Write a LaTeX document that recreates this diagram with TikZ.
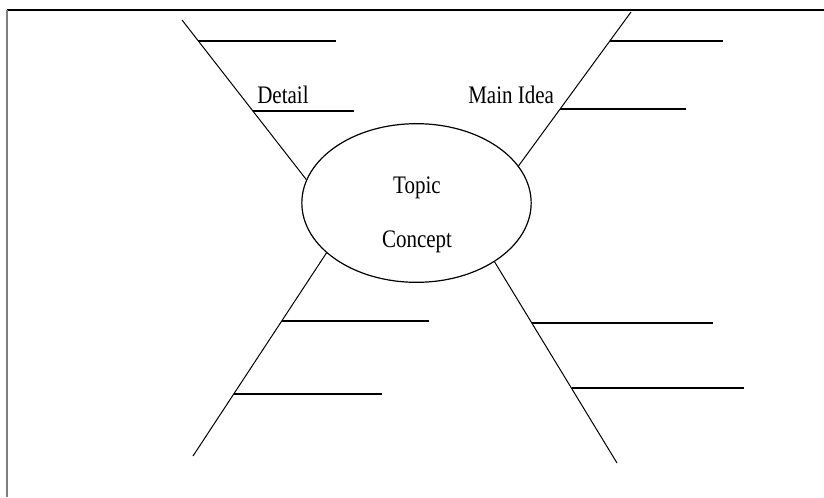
\documentclass[tikz,border=0pt]{standalone}
\usepackage{fontspec}
\setmainfont{Liberation Serif}
\usetikzlibrary{calc, shapes.geometric}

\newcommand{\tallword}[1]{\scalebox{1}[1.2]{#1}}

\begin{document}
\begin{tikzpicture}[x=0.75pt, y=-0.75pt,
		topic/.style = {draw, ellipse, line width=0.9pt, minimum width=172pt, minimum height=119pt, inner sep=0pt},
		spoke/.style = {line width=0.75pt},
		blank/.style = {line width=1.6pt},
		word/.style = {anchor=base, inner sep=0pt, font=\fontsize{15.75}{18}\selectfont}]
		\useasboundingbox (0,0) rectangle (824,497);
		
		% frame
		\draw[line width=0.8pt] (7,10) -- (824,10);
		\draw[gray, line width=1.5pt] (7,10) -- (7,497);
		
		\node[topic] (topic) at (416.5,203) {};
		\node[word] (topicword) at (417,193) {\tallword{Topic}};
		\node[word] (conceptword) at (417,247) {\tallword{Concept}};
		
		\coordinate (ulend) at (182,20);
		\coordinate (urend) at (631,12);
		\coordinate (llend) at (193,456);
		\coordinate (lrend) at (617,463);
		
		\begin{scope}[spoke]
			\draw (topic.168.4) -- (ulend);
			\draw (topic.20.5) -- (urend);
			\draw (topic.209.2) -- (llend);
			\draw (topic.323.9) -- (lrend);
		\end{scope}
		
		% where the blanks leave the spokes
		\coordinate (ulA) at ($(topic.168.4)!0.869!(ulend)$);
		\coordinate (ulB) at ($(topic.168.4)!0.431!(ulend)$);
		\coordinate (urA) at ($(topic.20.5)!0.810!(urend)$);
		\coordinate (urB) at ($(topic.20.5)!0.372!(urend)$);
		\coordinate (llA) at ($(topic.209.2)!0.335!(llend)$);
		\coordinate (llB) at ($(topic.209.2)!0.695!(llend)$);
		\coordinate (lrA) at ($(topic.323.9)!0.302!(lrend)$);
		\coordinate (lrB) at ($(topic.323.9)!0.629!(lrend)$);
		
		\begin{scope}[blank]
			\draw (ulA) -- ++(138,0);
			\draw (ulB) -- ++(101,0);
			\draw (urA) -- ++(113,0);
			\draw (urB) -- ++(126,0);
			\draw (llA) -- ++(147,0);
			\draw (llB) -- ++(148,0);
			\draw (lrA) -- ++(181,0);
			\draw (lrB) -- ++(172,0);
		\end{scope}
		
		\node[word, anchor=base west] (detail) at (257,103) {\tallword{Detail}};
		\node[word, anchor=base west] (mainidea) at (468,103) {\tallword{Main Idea}};
	\end{tikzpicture}
\end{document}
